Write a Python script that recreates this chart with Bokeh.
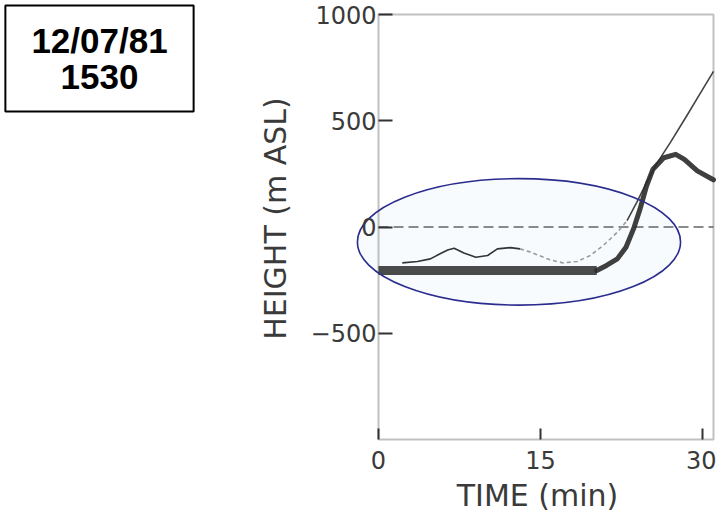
import math
from bokeh.plotting import figure
from bokeh.models import Range1d, FixedTicker, BoxAnnotation, LinearAxis, Label
from bokeh.embed import file_html
from bokeh.resources import INLINE

# ---- data ----
# thick (observed) curve
thick_t = [0.0, 20.2, 21.1, 22.1, 22.9, 23.6, 24.2, 24.8, 25.4, 26.4, 27.5, 28.3, 29.5, 30.9, 31.0]
thick_v = [-205, -205, -181, -150, -95, -9, 84, 193, 272, 326, 342, 318, 264, 225, 222]

# thin curve: solid start, dashed middle, solid end
thin1_t = [2.2, 3.6, 4.8, 5.7, 6.4, 7.0, 7.9, 9.0, 10.1, 11.0, 12.2, 13.1]
thin1_v = [-169, -162, -150, -126, -108, -100, -122, -142, -134, -103, -97, -103]
thin_dash_t = [13.1, 14.0, 14.7, 15.9, 17.1, 18.4, 19.6, 20.8, 22.1, 23.0]
thin_dash_v = [-103, -117, -131, -155, -169, -162, -134, -87, -25, 30]
thin2_t = [23.0, 23.9, 24.8, 25.8, 27.0, 28.5, 29.8, 31.0]
thin2_v = [30, 116, 209, 303, 397, 521, 631, 732]

# zero reference line
zero_t = [0, 31]
zero_v = [0, 0]

# highlight ellipse (data units)
ell_x = [13.0]
ell_y = [-70]
ell_w = [29.9]
ell_h = [595]

x_ticks = [0, 15, 30]
y_ticks = [-500, 0, 500, 1000]
x_title = "TIME (min)"
y_title = "HEIGHT (m ASL)"
date_text = "12/07/81\n1530"

FONT = "DejaVu Sans"
TXT = "#3a3a3a"

# The frame covers the whole canvas; axes are fixed at x = 0 and y = -1000.
W, H = 716, 516
ppm = (713 - 378) / 31.0          # pixels per minute
X0 = -378 / ppm
X1 = X0 + W / ppm
ppu = (439 - 14) / 2000.0         # pixels per metre
Y1 = 1000 + 14 / ppu
Y0 = Y1 - H / ppu

def cx(px):
    return X0 + px / ppm
def cy(py):
    return Y1 - py / ppu

p = figure(width=W, height=H, x_range=Range1d(X0, X1), y_range=Range1d(Y0, Y1),
           output_backend="svg", toolbar_location=None,
           x_axis_location=None, y_axis_location=None, min_border=0)
p.outline_line_color = None
p.grid.visible = False
p.background_fill_color = "white"

p.ellipse(x=ell_x, y=ell_y, width=ell_w, height=ell_h,
          fill_color="#eef6f9", fill_alpha=0.4, line_color=None)

p.line(zero_t, zero_v, line_color="#8a8a8a", line_width=2, line_dash="10 5")

p.line(thin1_t, thin1_v, line_color="#333333", line_width=1.6, line_join="round")
p.line(thin_dash_t, thin_dash_v, line_color="#9a9a9a", line_width=1.6, line_dash="4 3")
p.line(thin2_t, thin2_v, line_color="#444444", line_width=1.6, line_join="round")

p.line(thick_t[:2], thick_v[:2], line_color="#2a2a2a", line_width=9, line_alpha=0.85)
p.line(thick_t[1:], thick_v[1:], line_color="#2a2a2a", line_width=5, line_alpha=0.9,
       line_join="round", line_cap="round")

p.ellipse(x=ell_x, y=ell_y, width=ell_w, height=ell_h,
          fill_color=None, line_color="#2b2d8e", line_width=1.6)

p.add_layout(BoxAnnotation(left=0, right=31, bottom=-1000, top=1000,
                           fill_color=None, line_color="#333333", line_width=2))

def style_labels(ax):
    ax.axis_line_color = None
    ax.minor_tick_line_color = None
    ax.major_tick_line_color = None
    ax.major_tick_in = 0
    ax.major_tick_out = 0
    ax.major_label_text_font = FONT
    ax.major_label_text_font_size = "24px"
    ax.major_label_text_color = TXT

def tick_axis(ticks, loc, length):
    return LinearAxis(fixed_location=loc, ticker=FixedTicker(ticks=ticks),
                      major_tick_in=0, major_tick_out=length,
                      major_tick_line_color="#333333", major_tick_line_width=2,
                      minor_tick_line_color=None, axis_line_color=None,
                      major_label_text_color=None)

# x axis: labels below y = -1000, tick marks pointing up into the plot
xa = LinearAxis(fixed_location=-1000, ticker=FixedTicker(ticks=x_ticks),
                major_label_standoff=11)
style_labels(xa)
p.add_layout(xa, "below")
p.add_layout(tick_axis(x_ticks, -1000, 11), "above")

# y axis: labels left of x = 0, tick marks pointing right into the plot
ya = LinearAxis(fixed_location=0, ticker=FixedTicker(ticks=y_ticks),
                major_label_standoff=2)
style_labels(ya)
p.add_layout(ya, "left")
p.add_layout(tick_axis(y_ticks, 0, 14), "right")

# axis titles
p.add_layout(Label(x=cx(537), y=cy(495), text=x_title, text_font=FONT,
                   text_font_size="30px", text_color=TXT,
                   text_align="center", text_baseline="middle"))
p.add_layout(Label(x=cx(275), y=cy(218), text=y_title, text_font=FONT,
                   text_font_size="30px", text_color=TXT, angle=math.pi / 2,
                   text_align="center", text_baseline="middle"))

# ---- date box ----
p.add_layout(Label(x=cx(99), y=cy(58), text=date_text,
                   text_font="Liberation Sans", text_font_style="bold",
                   text_font_size="35px", text_align="center", text_baseline="middle",
                   text_color="black", text_line_height=0.9,
                   padding=(26, 16), border_line_color="black", border_line_width=2,
                   background_fill_color="white"))

open("out.html", "w").write(file_html(p, INLINE))
